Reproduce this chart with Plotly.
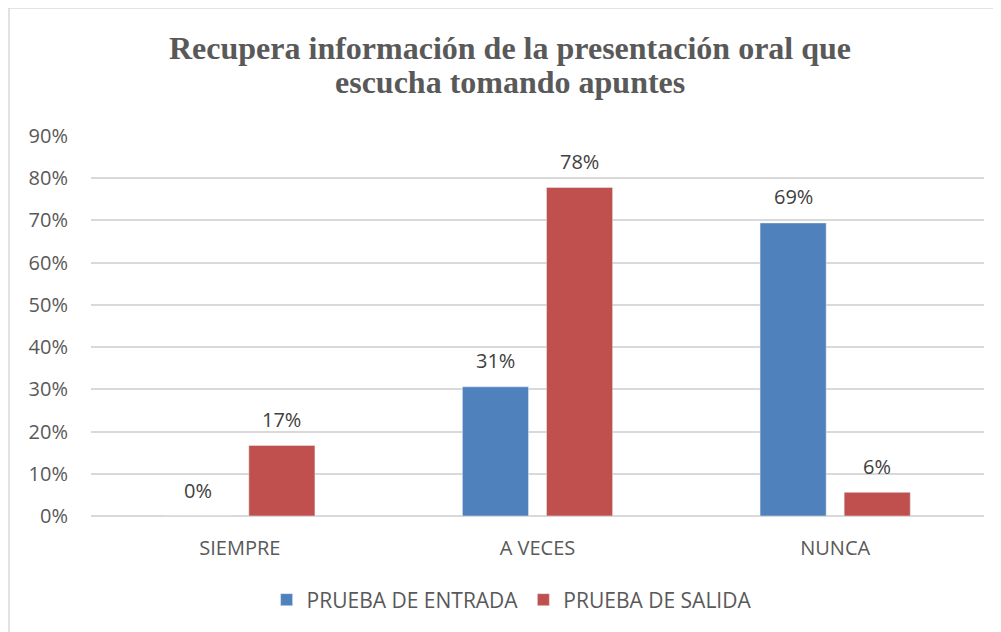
import plotly.graph_objects as go

categories = ["SIEMPRE", "A VECES", "NUNCA"]
entrada = [0.0, 0.306, 0.694]
salida = [0.167, 0.778, 0.056]
series_names = ["PRUEBA DE ENTRADA", "PRUEBA DE SALIDA"]
title_lines = ["Recupera información de la presentación oral que", "escucha tomando apuntes"]

COLOR_ENTRADA = "#4f81bd"
COLOR_SALIDA = "#c0504d"
COLOR_TEXT = "#595959"
COLOR_GRID = "#d9d9d9"

# page body has an 8px margin, so the figure is sized/positioned to compensate
W, H = 993, 624
M_L, M_R, M_T, M_B = 83, 17, 128, 116
plot_w = W - M_L - M_R
plot_h = H - M_T - M_B
BAR_OFFSET_PX = 42  # half of one bar slot

fig = go.Figure()
for name, vals, color in [(series_names[0], entrada, COLOR_ENTRADA),
                          (series_names[1], salida, COLOR_SALIDA)]:
    fig.add_trace(go.Bar(x=categories, y=vals, name=name, marker_color=color))

# data labels, floated above each bar
for shift, vals in [(-BAR_OFFSET_PX, entrada), (BAR_OFFSET_PX, salida)]:
    for cat, v in zip(categories, vals):
        fig.add_annotation(x=cat, y=v, text=f"{v:.0%}", showarrow=False,
                           xshift=shift, yshift=26,
                           font=dict(size=20, color="#404040"))

# title as two lines with tighter spacing than plotly's title
for line, y_px in zip(title_lines, [40, 74]):
    fig.add_annotation(text=f"<b>{line}</b>", showarrow=False,
                       xref="paper", yref="paper", x=0.469, xanchor="center",
                       y=1 + (M_T - y_px) / plot_h, yanchor="middle",
                       font=dict(family="Liberation Serif, Times New Roman, serif",
                                 size=32, color=COLOR_TEXT))

# outer chart frame
fig.add_shape(
    type="rect", xref="paper", yref="paper",
    x0=(1 - M_L) / plot_w, x1=(987 - M_L) / plot_w,
    y0=-(H + 30 - M_T - plot_h) / plot_h, y1=1 + M_T / plot_h,
    line=dict(color="#d9d9d9", width=1.5), fillcolor="rgba(0,0,0,0)", layer="below",
)

fig.update_layout(
    width=W, height=H,
    margin=dict(l=M_L, r=M_R, t=M_T, b=M_B),
    paper_bgcolor="white", plot_bgcolor="white",
    font=dict(family="Open Sans, Noto Sans, sans-serif", color=COLOR_TEXT, size=20),
    bargap=0.435, bargroupgap=0.214,
    legend=dict(orientation="h", x=0.471, xanchor="center", y=-0.221, yanchor="middle",
                font=dict(size=21, color=COLOR_TEXT)),
    showlegend=True,
)
fig.update_xaxes(showgrid=False, showline=False, ticks="", ticklabelstandoff=18,
                 tickfont=dict(size=20, color=COLOR_TEXT))
fig.update_yaxes(range=[0, 0.9], dtick=0.1, tickformat=".0%", showgrid=True,
                 gridcolor=COLOR_GRID, gridwidth=1.5, zeroline=True, zerolinecolor=COLOR_GRID,
                 zerolinewidth=1.5, ticks="", ticklabelstandoff=22,
                 tickfont=dict(size=20, color=COLOR_TEXT))

fig.write_html("out.html")
